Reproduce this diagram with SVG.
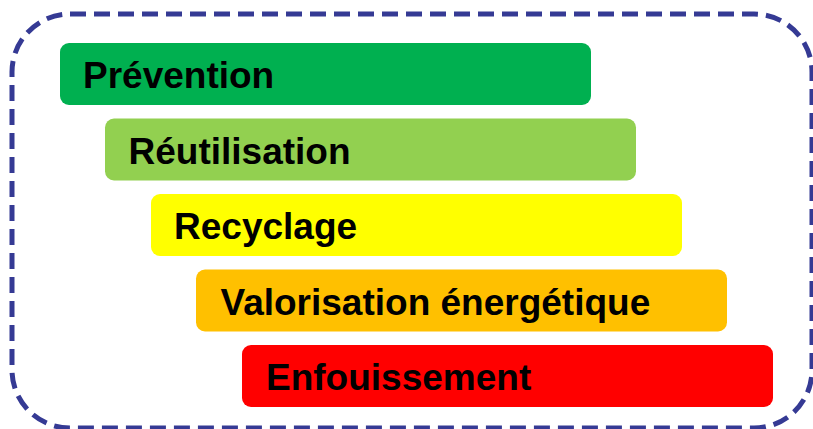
<svg xmlns="http://www.w3.org/2000/svg" width="813" height="429" viewBox="0 0 813 429">
<style>
.frame{fill:none;stroke:#353A94;stroke-width:5;stroke-dasharray:16 8}
.box{stroke:none}
.lbl{font-family:"Liberation Sans",Arial,sans-serif;font-weight:bold;font-size:37px;fill:#000}
</style>
<rect width="813" height="429" fill="#fff"/>
<rect class="frame" x="12" y="14" width="800" height="414" rx="58" ry="58"/>
<g id="prevention"><rect class="box" x="60" y="43" width="531" height="62" rx="9" fill="#00B050"/><text class="lbl" x="83" y="88">Prévention</text></g>
<g id="reutilisation"><rect class="box" x="105" y="118.5" width="531" height="62" rx="9" fill="#92D050"/><text class="lbl" x="128.5" y="163.5">Réutilisation</text></g>
<g id="recyclage"><rect class="box" x="151" y="194" width="531" height="62" rx="9" fill="#FFFF00"/><text class="lbl" x="174" y="239">Recyclage</text></g>
<g id="valorisation"><rect class="box" x="196" y="269.5" width="531" height="62" rx="9" fill="#FFC000"/><text class="lbl" x="220.5" y="314.5">Valorisation énergétique</text></g>
<g id="enfouissement"><rect class="box" x="242" y="345" width="531" height="62" rx="9" fill="#FF0000"/><text class="lbl" x="266" y="390">Enfouissement</text></g>
<g id="connectors"></g>
</svg>
